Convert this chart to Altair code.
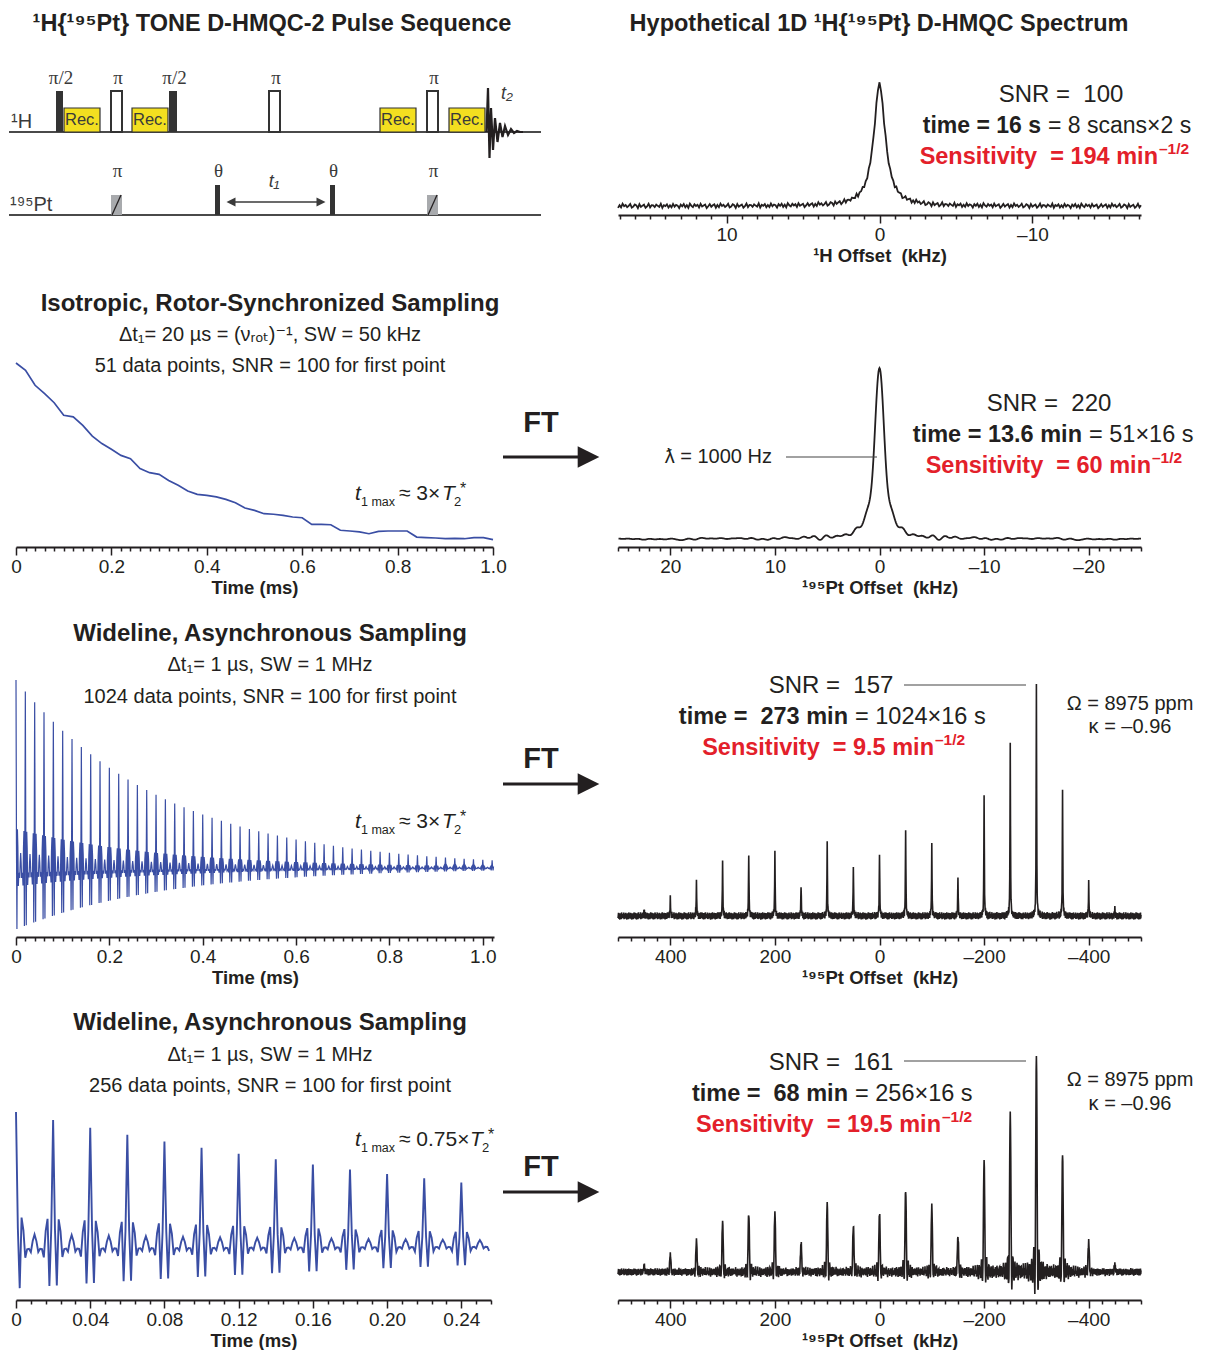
import numpy as np
import pandas as pd
import altair as alt

FONT = "Liberation Sans, Arial, Helvetica, DejaVu Sans, sans-serif"
SERIF = "Liberation Serif, Times New Roman, DejaVu Serif, serif"
INK = "#231f20"
RED = "#e3202a"
BLUE = "#3a4ea4"
YELLOW = "#f3df20"
GRAY = "#a8aaad"
DARK = "#333333"
NB = "\u00a0"

# ---------------- values ----------------
# spinning-sideband manifold of the wideline 195Pt pattern (offset in kHz, relative height)
SIDEBAND_KHZ = [450, 400, 350, 300, 250, 200, 150, 100, 50, 0,
                -50, -100, -150, -200, -250, -300, -350, -400, -450]
SIDEBAND_HEIGHT = [20, 55, 103, 165, 195, 195, 95, 223, 153, 196,
                   271, 213, 117, 365, 525, 713, 387, 101, 23]
PT_LINEWIDTH_KHZ = 1.0      # lambda = 1000 Hz
H_LINEWIDTH_KHZ = 0.9
WIDE_DWELL_MS = 0.001       # dt1 = 1 us
WIDE_POINTS_LONG = 1024
WIDE_POINTS_SHORT = 256

# isotropic, rotor-synchronised t1 decay (51 points, dt1 = 20 us)
ISO_DWELL_MS = 0.02
ISO_FID = [100, 96.0, 87.9, 83.3, 78.4, 71.6, 70.7, 66.1, 60.3, 56.2,
           53.1, 49.8, 48.0, 42.6, 40.4, 39.5, 36.2, 33.5, 30.4, 28.6,
           28.1, 27.2, 25.9, 24.1, 21.2, 19.9, 18.1, 17.8, 17.2, 16.3,
           15.9, 12.3, 12.3, 12.1, 9.1, 8.7, 8.2, 7.2, 8.5, 8.7,
           8.7, 8.7, 5.4, 5.1, 4.9, 4.5, 4.7, 4.5, 5.1, 5.1, 4.0]
ISO_TIME = [round(i * ISO_DWELL_MS, 2) for i in range(len(ISO_FID))]

# baseline ripple (relative units, repeated along the trace)
NOISE = [0.3, -0.6, 0.9, -0.2, -0.8, 0.5, 0.1, -0.4, 0.7, -0.9, 0.2, 0.6, -0.3, -0.7, 0.8, 0.0,
         -0.5, 0.4, -0.1, 0.9, -0.6, 0.3, -0.8, 0.6, 0.2, -0.4, 0.7, -0.2, -0.9, 0.5, 0.1, -0.3,
         0.8, -0.7, 0.4, -0.1, 0.6, -0.5, 0.0, 0.9, -0.8, 0.3, -0.6, 0.7, -0.2, 0.5, -0.9, 0.1,
         0.4, -0.3, 0.8, -0.6, 0.2, -0.7, 0.6, -0.1, 0.3, -0.8, 0.9, -0.4, 0.0, 0.5, -0.5, 0.2]

# pulse sequence (schematic time axis in drawing units)
H_PULSE_START = [55, 110, 168, 268, 426]
H_PULSE_END = [62, 121, 176, 279, 437]
H_PULSE_KIND = ["π/2", "π", "π/2", "π", "π"]
REC_START = [63, 131, 379, 448]
REC_END = [99, 167, 415, 484]
PT_PULSE_START = [110, 214, 329, 426]
PT_PULSE_END = [121, 219, 334, 437]
PT_PULSE_KIND = ["π", "θ", "θ", "π"]
H_LEVEL, PT_LEVEL = 90, 7
H_PULSE_HEIGHT, REC_HEIGHT, PT_PI_HEIGHT, THETA_HEIGHT = 41, 24, 20, 30
FID_T2_X = [485.5, 487, 488.5, 490, 492, 494, 496.5, 499, 501.5, 504, 507, 510, 513, 516, 519, 522]
FID_T2_Y = [90, 134, 64, 114, 72, 104, 80, 99, 85, 96, 87, 93, 89, 91, 90, 90]
T1_ARROW = [233, 317]
SEQ_START, SEQ_END = 8, 540

# ---------------- layout ----------------
ROW_TOP = [70, 240, 565, 955]
LEFT_X0, RIGHT_X0 = 15, 617
LEFT_W = [477, 477, 478, 475]
RIGHT_W = 523
LEFT_H = [150, 305, 370, 343]
RIGHT_H = [143, 305, 370, 343]

ONE = pd.DataFrame({"k": [0]})


def rel(px, py, row, side):
    return px - (LEFT_X0 if side == "L" else RIGHT_X0), py - ROW_TOP[row]


def txt(s, px, py, row, side, size=18, weight="normal", color=INK, align="center",
        font=FONT, style="normal"):
    x, y = rel(px, py, row, side)
    return alt.Chart(ONE).mark_text(
        text=s, fontSize=size, fontWeight=weight, color=color, align=align,
        baseline="middle", font=font, fontStyle=style
    ).encode(x=alt.value(x), y=alt.value(y))


def hline(px1, px2, py, row, side, width=1.2, color="#444444"):
    x1, y = rel(px1, py, row, side)
    x2, _ = rel(px2, py, row, side)
    return alt.Chart(ONE).mark_rule(strokeWidth=width, color=color).encode(
        x=alt.value(x1), x2=alt.value(x2), y=alt.value(y))


RIGHT_TRI = "M-1,-1L1,0L-1,1Z"
LEFT_TRI = "M1,-1L-1,0L1,1Z"


def ft_arrow(row, ft_y, arrow_y):
    x, y = rel(587.5, arrow_y, row, "R")
    head = alt.Chart(ONE).mark_point(shape=RIGHT_TRI, filled=True, size=470, color=INK,
                                     opacity=1, strokeWidth=0).encode(
        x=alt.value(x), y=alt.value(y))
    return [txt("FT", 540, ft_y, row, "R", size=29, weight="bold"),
            hline(502, 579, arrow_y, row, "R", width=3, color=INK), head]


def t1max(row, py, mult):
    if mult == "3":
        xs = [354, 360, 398, 441, 453, 459]
    else:
        xs = [354, 360, 398, 469, 481, 487]
    return [
        txt("t", xs[0], py, row, "L", size=21, style="italic", align="left"),
        txt("1 max", xs[1], py + 8, row, "L", size=12.5, align="left"),
        txt("≈ " + mult + "×", xs[2], py, row, "L", size=21, align="left"),
        txt("T", xs[3], py, row, "L", size=21, style="italic", align="left"),
        txt("2", xs[4], py + 8, row, "L", size=13, align="left"),
        txt("*", xs[5], py - 5, row, "L", size=16, align="left"),
    ]


def stats_block(row, snr_x, snr_y, time_bold, time_rest, time_x, time_y, sens, sens_x, sens_y,
                tsize=23.5):
    return [
        txt("SNR =" + NB + NB + snr_x[0], snr_x[1], snr_y, row, "R", size=24),
        txt(time_bold, time_x, time_y, row, "R", size=tsize, weight="bold", align="right"),
        txt(time_rest, time_x + 7, time_y, row, "R", size=tsize, align="left"),
        txt("Sensitivity" + NB + NB + "= " + sens + " min", sens_x, sens_y, row, "R", size=23.5,
            weight="bold", color=RED, align="right"),
        txt("–1/2", sens_x + 1, sens_y - 8, row, "R", size=15.5, weight="bold", color=RED,
            align="left"),
    ]


def ydomain(top, bottom, zero_px, unit_px, unit=1.0):
    ppu = (zero_px - unit_px) / unit
    return [-(bottom - zero_px) / ppu, (zero_px - top) / ppu]


# ---------------- computed traces ----------------
def sideband_spectrum(nu, t_max):
    a = np.pi * PT_LINEWIDTH_KHZ
    s = np.zeros(nu.shape, dtype=complex)
    for c, h in zip(SIDEBAND_KHZ, SIDEBAND_HEIGHT):
        z = a + 2j * np.pi * (nu - c)
        s += h * (1 - np.exp(-z * t_max)) / z
    s = s.real
    return s / s.max()


def sideband_fid(n):
    t = np.arange(n) * WIDE_DWELL_MS
    f = np.zeros(n)
    for c, h in zip(SIDEBAND_KHZ, SIDEBAND_HEIGHT):
        f += h * np.cos(2 * np.pi * c * t)
    f *= np.exp(-np.pi * PT_LINEWIDTH_KHZ * t)
    return t, f / f[0]


# 1H spectrum
nu1 = np.round(np.arange(-17.1, 17.1001, 0.1), 3)
a1 = np.pi * H_LINEWIDTH_KHZ
spec1 = 1.0 / (1.0 + (2 * np.pi * nu1 / a1) ** 2) + 0.02 * np.resize(NOISE, nu1.size)
df_s1 = pd.DataFrame({"nu": nu1, "I": spec1})

# isotropic 195Pt spectrum = FT of the rotor-synchronised decay
fid_iso = np.array(ISO_FID, dtype=float)
fid_iso[0] *= 0.5
Fi = np.fft.fftshift(np.fft.fft(fid_iso, 1024)).real
nu2 = np.fft.fftshift(np.fft.fftfreq(1024, d=ISO_DWELL_MS))
df_s2 = pd.DataFrame({"nu": nu2, "I": Fi / Fi.max()})

# wideline spectra
nu3 = np.round(np.arange(-500, 500.001, 0.5), 2)
spec3 = sideband_spectrum(nu3, WIDE_POINTS_LONG * WIDE_DWELL_MS) + 0.017 * np.resize(NOISE, nu3.size)
spec4 = sideband_spectrum(nu3, WIDE_POINTS_SHORT * WIDE_DWELL_MS) + 0.018 * np.resize(NOISE, nu3.size)
df_s3 = pd.DataFrame({"nu": nu3, "I": spec3})
df_s4 = pd.DataFrame({"nu": nu3, "I": spec4})

t3, f3 = sideband_fid(WIDE_POINTS_LONG)
t4, f4 = sideband_fid(WIDE_POINTS_SHORT)
df_f2 = pd.DataFrame({"t": ISO_TIME, "v": ISO_FID})
df_f3 = pd.DataFrame({"t": t3, "v": f3})
df_f4 = pd.DataFrame({"t": t4, "v": f4})


# ---------------- axes ----------------
def offset_axis(title, values, major):
    test = f"abs(datum.value % {major}) < 1e-6"
    return alt.Axis(
        values=values, title=title,
        tickSize={"condition": {"test": test, "value": 8}, "value": 4},
        labelExpr=f"({test}) ? (datum.value < 0 ? '–' + format(-datum.value, 'd') : format(datum.value, 'd')) : ''",
        labelOverlap=False, labelBound=False, labelFlush=False)


def time_axis(values, major, dec):
    test = f"abs(datum.value / {major} - round(datum.value / {major})) < 1e-6"
    return alt.Axis(
        values=values, title="Time (ms)",
        tickSize={"condition": {"test": test, "value": 8}, "value": 4},
        labelExpr=f"({test}) ? (datum.value == 0 ? '0' : format(datum.value, '.{dec}f')) : ''",
        labelOverlap=False, labelBound=False, labelFlush=False)


def spectrum_chart(row, df, half, ticks, major, title, zero_px, unit_px, width, extra):
    dom = ydomain(ROW_TOP[row], ROW_TOP[row] + RIGHT_H[row], zero_px, unit_px)
    line = alt.Chart(df).mark_line(color=INK, strokeWidth=width).encode(
        x=alt.X("nu:Q", scale=alt.Scale(domain=[-half, half], reverse=True, nice=False, zero=False),
                axis=offset_axis(title, ticks, major)),
        y=alt.Y("I:Q", scale=alt.Scale(domain=dom, nice=False, zero=False), axis=None))
    return alt.layer(line, *extra).properties(width=RIGHT_W, height=RIGHT_H[row])


def fid_chart(row, df, tmax, ticks, major, dec, zero_px, unit_px, unit, width, extra):
    dom = ydomain(ROW_TOP[row], ROW_TOP[row] + LEFT_H[row], zero_px, unit_px, unit)
    line = alt.Chart(df).mark_line(color=BLUE, strokeWidth=width).encode(
        x=alt.X("t:Q", scale=alt.Scale(domain=[0, tmax], nice=False, zero=False),
                axis=time_axis(ticks, major, dec)),
        y=alt.Y("v:Q", scale=alt.Scale(domain=dom, nice=False, zero=False), axis=None))
    return alt.layer(line, *extra).properties(width=LEFT_W[row], height=LEFT_H[row])


# ---------------- row 1: pulse sequence ----------------
xs = alt.Scale(domain=[LEFT_X0, LEFT_X0 + LEFT_W[0]], nice=False, zero=False)
ys = alt.Scale(domain=[0, LEFT_H[0]], nice=False, zero=False)


def X(f):
    return alt.X(f, type="quantitative", scale=xs, axis=None)


def Y(f):
    return alt.Y(f, type="quantitative", scale=ys, axis=None)


hp = pd.DataFrame({"x0": H_PULSE_START, "x1": H_PULSE_END, "kind": H_PULSE_KIND})
hp["y0"] = H_LEVEL
hp["y1"] = H_LEVEL + H_PULSE_HEIGHT
hp["xm"] = (hp.x0 + hp.x1) / 2 + 1.5
hp["ly"] = H_LEVEL + H_PULSE_HEIGHT + 13
rec = pd.DataFrame({"x0": REC_START, "x1": REC_END})
rec["y0"] = H_LEVEL
rec["y1"] = H_LEVEL + REC_HEIGHT
rec["xm"] = (rec.x0 + rec.x1) / 2
rec["ym"] = H_LEVEL + REC_HEIGHT / 2
pp = pd.DataFrame({"x0": PT_PULSE_START, "x1": PT_PULSE_END, "kind": PT_PULSE_KIND})
pp["y0"] = PT_LEVEL
pp["y1"] = [PT_LEVEL + (PT_PI_HEIGHT if k == "π" else THETA_HEIGHT) for k in PT_PULSE_KIND]
pp["xm"] = (pp.x0 + pp.x1) / 2 + 1
pp["ly"] = PT_LEVEL + 44
pp["sx0"] = pp.x0 + 1
pp["sx1"] = pp.x1 - 1


def rects(df, **mk):
    return alt.Chart(df).mark_rect(**mk).encode(x=X("x0"), x2=alt.X2("x1"), y=Y("y0"), y2=alt.Y2("y1"))


baselines = alt.Chart(pd.DataFrame({"x0": [SEQ_START, SEQ_START], "x1": [SEQ_END, SEQ_END],
                                    "y": [H_LEVEL, PT_LEVEL]})).mark_rule(
    color="#4a4a4a", strokeWidth=2).encode(x=X("x0"), x2=alt.X2("x1"), y=Y("y"))
rec_boxes = rects(rec, fill=YELLOW, stroke=DARK, strokeWidth=1.2)
rec_text = alt.Chart(rec).mark_text(text="Rec.", fontSize=16.5, font=FONT, color="#3a3a3a").encode(
    x=X("xm"), y=Y("ym"))
h_filled = rects(hp[hp.kind == "π/2"], fill=DARK)
h_hollow = rects(hp[hp.kind == "π"], fill="white", stroke=DARK, strokeWidth=2)
h_labels = alt.Chart(hp).mark_text(font=SERIF, fontSize=19, color="#3a3a3a").encode(
    x=X("xm"), y=Y("ly"), text="kind:N")
pt_pi = rects(pp[pp.kind == "π"], fill=GRAY)
pt_slash = alt.Chart(pp[pp.kind == "π"]).mark_rule(color=INK, strokeWidth=1.3).encode(
    x=X("sx0"), x2=alt.X2("sx1"), y=Y("y0"), y2=alt.Y2("y1"))
pt_theta = rects(pp[pp.kind == "θ"], fill=DARK)
pt_labels = alt.Chart(pp).mark_text(font=SERIF, fontSize=19, color="#3a3a3a").encode(
    x=X("xm"), y=Y("ly"), text="kind:N")
fid_t2 = alt.Chart(pd.DataFrame({"x": FID_T2_X, "y": FID_T2_Y, "i": range(len(FID_T2_X))})).mark_line(
    color=INK, strokeWidth=2.2).encode(x=X("x"), y=Y("y"), order="i:Q")
t1_line = alt.Chart(pd.DataFrame({"x0": [T1_ARROW[0]], "x1": [T1_ARROW[1]], "y": [20]})).mark_rule(
    color="#3a3a3a", strokeWidth=1.5).encode(x=X("x0"), x2=alt.X2("x1"), y=Y("y"))
t1_left = alt.Chart(pd.DataFrame({"x": [T1_ARROW[0] - 3], "y": [20]})).mark_point(
    shape=LEFT_TRI, filled=True, size=80, color="#3a3a3a", opacity=1, strokeWidth=0).encode(x=X("x"), y=Y("y"))
t1_right = alt.Chart(pd.DataFrame({"x": [T1_ARROW[1] + 3], "y": [20]})).mark_point(
    shape=RIGHT_TRI, filled=True, size=80, color="#3a3a3a", opacity=1, strokeWidth=0).encode(x=X("x"), y=Y("y"))
time_labels = alt.Chart(pd.DataFrame({"x": [273, 506], "y": [40, 128], "s": ["t₁", "t₂"]})).mark_text(
    font=FONT, fontSize=18, fontStyle="italic", color="#3a3a3a").encode(x=X("x"), y=Y("y"), text="s:N")

L1 = alt.layer(
    baselines, rec_boxes, rec_text, h_filled, h_hollow, h_labels, pt_pi, pt_slash, pt_theta,
    pt_labels, fid_t2, t1_line, t1_left, t1_right, time_labels,
    txt("¹H{¹⁹⁵Pt} TONE D-HMQC-2 Pulse Sequence", 271, 22, 0, "L", size=23.5, weight="bold"),
    txt("¹H", 10, 120, 0, "L", size=20, align="left", color="#3a3a3a"),
    txt("¹⁹⁵Pt", 9, 203, 0, "L", size=20, align="left", color="#3a3a3a"),
).properties(width=LEFT_W[0], height=LEFT_H[0])

R1 = spectrum_chart(
    0, df_s1, 17.1, list(range(-17, 18)), 10, "¹H Offset" + NB + NB + "(kHz)", 204, 82, 1.8,
    [txt("Hypothetical 1D ¹H{¹⁹⁵Pt} D-HMQC Spectrum", 878, 22, 0, "R", size=23.5, weight="bold")]
    + stats_block(0, ("100", 1060), 93, "time = 16 s", "= 8 scans×2 s", 1040, 124, "194", 1157, 155,
                  tsize=23))

# ---------------- row 2: isotropic ----------------
L2 = fid_chart(
    1, df_f2, 1.0, [round(0.02 * i, 2) for i in range(51)], 0.2, 1, 545, 361, 100, 1.7,
    [txt("Isotropic, Rotor-Synchronized Sampling", 269, 302, 1, "L", size=24, weight="bold"),
     txt("Δt₁= 20 µs = (νᵣₒₜ)⁻¹, SW = 50 kHz", 269, 333, 1, "L", size=20),
     txt("51 data points, SNR = 100 for first point", 269, 364, 1, "L", size=20)]
    + t1max(1, 492, "3"))

R2 = spectrum_chart(
    1, df_s2, 25, list(range(-25, 26)), 10, "¹⁹⁵Pt Offset" + NB + NB + "(kHz)", 537, 366, 1.8,
    ft_arrow(1, 421, 455)
    + [txt("ƛ = 1000 Hz", 771, 455, 1, "R", size=20, align="right"),
       hline(785, 876, 455, 1, "R")]
    + stats_block(1, ("220", 1048), 402, "time = 13.6 min", "= 51×16 s", 1081, 433, "60", 1150, 464,
                  tsize=23.5))

# ---------------- row 3: wideline, 1024 points ----------------
L3 = fid_chart(
    2, df_f3, 1.024, [round(0.02 * i, 2) for i in range(52)], 0.2, 1, 866, 678, 1.0, 1.2,
    [txt("Wideline, Asynchronous Sampling", 269, 632, 2, "L", size=24, weight="bold"),
     txt("Δt₁= 1 µs, SW = 1 MHz", 269, 663, 2, "L", size=20),
     txt("1024 data points, SNR = 100 for first point", 269, 695, 2, "L", size=20)]
    + t1max(2, 820, "3"))

R3 = spectrum_chart(
    2, df_s3, 500, list(range(-500, 501, 25)), 200, "¹⁹⁵Pt Offset" + NB + NB + "(kHz)", 914, 680, 1.6,
    ft_arrow(2, 757, 782)
    + [hline(903, 1025, 683, 2, "R"),
       txt("Ω = 8975 ppm", 1129, 702, 2, "R", size=20),
       txt("κ = –0.96", 1129, 725, 2, "R", size=20)]
    + stats_block(2, ("157", 830), 684, "time =" + NB + NB + "273 min", "= 1024×16 s", 847, 715,
                  "9.5", 933, 746))

# ---------------- row 4: wideline, 256 points ----------------
L4 = fid_chart(
    3, df_f4, 0.256, [round(0.008 * i, 3) for i in range(33)], 0.04, 2, 1243, 1110, 1.0, 1.9,
    [txt("Wideline, Asynchronous Sampling", 269, 1021, 3, "L", size=24, weight="bold"),
     txt("Δt₁= 1 µs, SW = 1 MHz", 269, 1053, 3, "L", size=20),
     txt("256 data points, SNR = 100 for first point", 269, 1084, 3, "L", size=20)]
    + t1max(3, 1138, "0.75"))

R4 = spectrum_chart(
    3, df_s4, 500, list(range(-500, 501, 25)), 200, "¹⁹⁵Pt Offset" + NB + NB + "(kHz)", 1270, 1052, 1.6,
    ft_arrow(3, 1165, 1190)
    + [hline(903, 1025, 1059, 3, "R"),
       txt("Ω = 8975 ppm", 1129, 1078, 3, "R", size=20),
       txt("κ = –0.96", 1129, 1102, 3, "R", size=20)]
    + stats_block(3, ("161", 830), 1061, "time =" + NB + NB + "68 min", "= 256×16 s", 847, 1092,
                  "19.5", 940, 1123))

chart = alt.concat(
    L1, R1, L2, R2, L3, R3, L4, R4,
    columns=2, spacing={"row": 20, "column": 124}, bounds="flush"
).properties(
    padding={"left": 0, "top": 4, "right": 0, "bottom": 0}
).configure_view(strokeWidth=0).configure_axis(
    domainColor=INK, domainWidth=2, tickColor=INK, tickWidth=1.5,
    labelFont=FONT, labelFontSize=19, labelColor=INK, labelPadding=2,
    titleFont=FONT, titleFontSize=18.5, titleFontWeight="bold", titleColor=INK, titlePadding=2,
    grid=False)

chart.save("out.html", embed_options={"renderer": "svg", "actions": False})
